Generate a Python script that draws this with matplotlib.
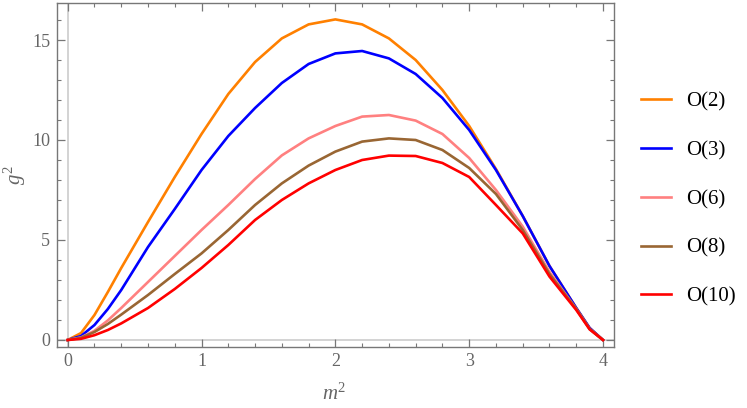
import numpy as np
import matplotlib
matplotlib.use("Agg")
import matplotlib.pyplot as plt
from matplotlib.ticker import MultipleLocator

plt.rcParams['font.family'] = ['Liberation Serif', 'DejaVu Serif']
plt.rcParams['mathtext.fontset'] = 'custom'
plt.rcParams['mathtext.rm'] = 'Liberation Serif'
plt.rcParams['mathtext.it'] = 'Liberation Serif:italic'

# data
m2 = [0, 0.1, 0.2, 0.3, 0.4, 0.6, 0.8, 1.0, 1.2, 1.4, 1.6, 1.8, 2.0,
      2.2, 2.4, 2.6, 2.8, 3.0, 3.2, 3.4, 3.6, 3.8, 3.9, 4.0]
g2_O2 = [0, 0.35, 1.25, 2.4, 3.6, 5.9, 8.15, 10.3, 12.3, 13.9, 15.08, 15.78, 16.03,
         15.78, 15.08, 14.0, 12.5, 10.7, 8.55, 6.2, 3.7, 1.6, 0.6, 0]
g2_O3 = [0, 0.2, 0.75, 1.55, 2.5, 4.65, 6.55, 8.5, 10.2, 11.6, 12.85, 13.8, 14.33,
         14.45, 14.08, 13.3, 12.1, 10.5, 8.5, 6.2, 3.7, 1.6, 0.6, 0]
g2_O6 = [0, 0.13, 0.46, 0.98, 1.6, 2.9, 4.2, 5.5, 6.75, 8.05, 9.23, 10.08, 10.7,
         11.17, 11.25, 10.97, 10.3, 9.1, 7.5, 5.67, 3.4, 1.55, 0.55, 0]
g2_O8 = [0, 0.11, 0.4, 0.8, 1.27, 2.25, 3.3, 4.33, 5.5, 6.75, 7.83, 8.72, 9.42,
         9.92, 10.08, 10.0, 9.5, 8.6, 7.3, 5.5, 3.3, 1.55, 0.55, 0]
g2_O10 = [0, 0.06, 0.24, 0.5, 0.83, 1.6, 2.55, 3.6, 4.75, 6.0, 7.0, 7.83, 8.5,
          9.0, 9.22, 9.2, 8.85, 8.15, 6.75, 5.33, 3.17, 1.5, 0.53, 0]

series = [
    ('O(2)', g2_O2, '#FF8000'),
    ('O(3)', g2_O3, '#0000FF'),
    ('O(6)', g2_O6, '#FF8080'),
    ('O(8)', g2_O8, '#996633'),
    ('O(10)', g2_O10, '#FF0000'),
]

fig = plt.figure(figsize=(7.47, 4.08), dpi=100)
ax = fig.add_axes([57 / 747, 1 - 347 / 408, 557 / 747, 344 / 408])

# Mathematica-style axes through origin
ax.axhline(0, color='#cccccc', lw=1.2, zorder=1)
ax.axvline(0, color='#cccccc', lw=1.2, zorder=1)

for name, vals, col in series:
    ax.plot(m2, vals, color=col, lw=1.9, label=name, zorder=3,
            solid_joinstyle='round')

ax.set_xlim(-0.08, 4.082)
ax.set_ylim(-0.35, 16.85)

ax.xaxis.set_major_locator(MultipleLocator(1))
ax.xaxis.set_minor_locator(MultipleLocator(0.2))
ax.yaxis.set_major_locator(MultipleLocator(5))
ax.yaxis.set_minor_locator(MultipleLocator(1))

frame_col = '#777777'
for sp in ax.spines.values():
    sp.set_color(frame_col)
    sp.set_linewidth(1.0)
ax.tick_params(which='both', direction='in', top=True, right=True,
               color=frame_col, labelcolor='#666666', labelsize=13)
ax.tick_params(which='major', length=5.5, width=0.9, pad=5)
ax.tick_params(which='minor', length=3, width=0.8)
ax.tick_params(axis='x', which='major', pad=4)

ax.set_xlabel(r'$m^2$', color='#666666', fontsize=15)
ax.set_ylabel(r'$g^2$', color='#666666', fontsize=15)
ax.xaxis.set_label_coords(0.497, -0.105)
ax.yaxis.set_label_coords(-0.052, 0.5)

fig.legend(loc='upper left', bbox_to_anchor=(641 / 747, 1 - 92 / 408),
           frameon=False, fontsize=15, handlelength=1.45, handletextpad=0.7,
           labelspacing=1.4, borderpad=0, borderaxespad=0)

fig.savefig('out.png', dpi=100)
